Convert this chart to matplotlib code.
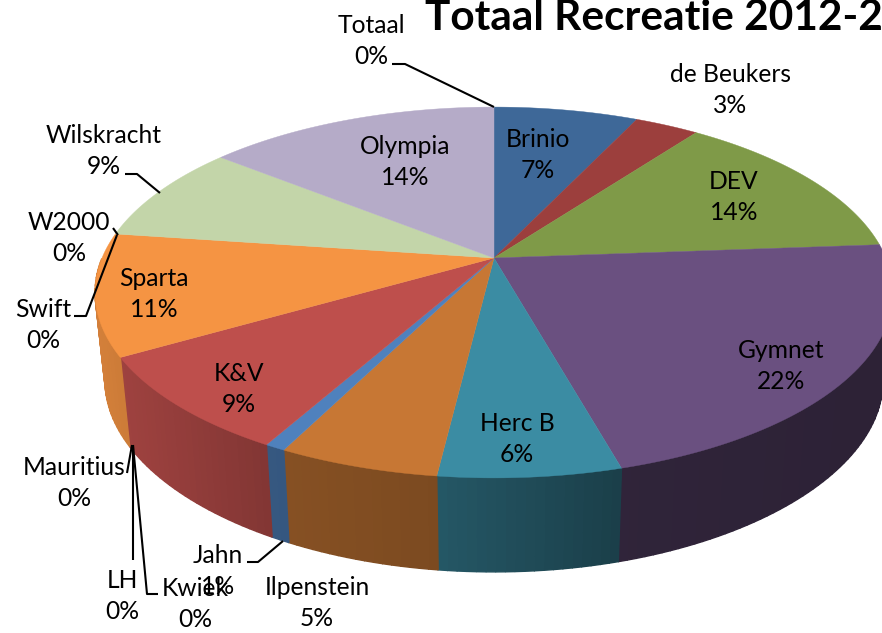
import numpy as np
import matplotlib
matplotlib.use("Agg")
import matplotlib.pyplot as plt
from matplotlib.patches import Polygon

# Data
categories = ["Totaal", "Brinio", "de Beukers", "DEV", "Gymnet", "Herc B", "Ilpenstein", "Jahn",
              "K&V", "Kwiek", "LH", "Mauritius", "Sparta", "Swift", "W2000", "Wilskracht", "Olympia"]
values = [0.0, 7.0, 3.1, 13.7, 21.9, 6.2, 5.48, 0.7, 8.52, 0.0, 0.0, 0.0, 10.6, 0.0, 0.0, 8.6, 14.2]
title = "Totaal Recreatie 2012-2013"

# Styles
colors = {"Brinio": "#3E6898", "de Beukers": "#9C3F3D", "DEV": "#7F9A48", "Gymnet": "#6A5080",
          "Herc B": "#3B8CA3", "Ilpenstein": "#C77734", "Jahn": "#4F81BD", "K&V": "#BE4F4C",
          "Sparta": "#F59443", "Wilskracht": "#C3D5A9", "Olympia": "#B5ABC8"}
label_pos = {"Totaal": (371, 41), "de Beukers": (730, 90), "Brinio": (538, 155), "DEV": (734, 197),
             "Olympia": (405, 162), "Wilskracht": (104, 151), "W2000": (69, 238), "Swift": (43, 325),
             "Sparta": (154, 294), "K&V": (239, 389), "Gymnet": (781, 366), "Herc B": (517, 439),
             "Mauritius": (74, 483), "LH": (122, 596), "Kwiek": (195, 604), "Jahn": (218, 571),
             "Ilpenstein": (317, 603)}
leaders = [[(392, 64), (405, 64), (494, 107)],
           [(125, 174), (137, 174), (160, 193)],
           [(113, 228), (118, 235)],
           [(74, 316), (86, 316), (117, 235)],
           [(127, 473), (132, 445)],
           [(133, 560), (133, 445)],
           [(158, 594), (147, 594), (133, 445)],
           [(247, 562), (258, 562), (283, 541)]]

CX, CY, A, B, K = 494, 258, 392, 179, 0.186


def top(theta):
    x, y = np.sin(theta), np.cos(theta)
    d = 1 + K * y
    return CX + A * x / d, CY - B * y / d


def bottom(theta):
    X, Y = top(theta)
    off = Y - CY
    return CX + (X - CX) * 0.975, Y + 88 + 6 * (off / 220) ** 2


def shade(c, f):
    rgb = np.array(matplotlib.colors.to_rgb(c))
    return tuple(rgb * f)


fig = plt.figure(figsize=(8.82, 6.33), dpi=100)
ax = fig.add_axes([0, 0, 1, 1])
ax.set_xlim(0, 882)
ax.set_ylim(633, 0)
ax.axis("off")

edges = np.cumsum([0] + values) / sum(values) * 2 * np.pi

# side walls (front half only)
for name, v, a0, a1 in zip(categories, values, edges[:-1], edges[1:]):
    if v == 0:
        continue
    n = max(2, int((a1 - a0) / 0.02))
    th = np.linspace(a0, a1, n + 1)
    for t0, t1 in zip(th[:-1], th[1:]):
        if np.cos((t0 + t1) / 2) > 0:
            continue
        tx0, ty0 = top(t0)
        tx1, ty1 = top(t1)
        bx0, by0 = bottom(t0)
        bx1, by1 = bottom(t1)
        f = np.interp((tx0 + tx1) / 2, [95, 270, 440, 620, 890], [0.86, 0.68, 0.62, 0.45, 0.42])
        col = shade(colors[name], f)
        ax.add_patch(Polygon([(tx0, ty0), (tx1, ty1), (bx1, by1), (bx0, by0)], closed=True,
                             facecolor=col, edgecolor=col, lw=1.0, zorder=2))

# top faces
for name, v, a0, a1 in zip(categories, values, edges[:-1], edges[1:]):
    if v == 0:
        continue
    th = np.linspace(a0, a1, 200)
    xs, ys = top(th)
    pts = [(CX, CY)] + list(zip(xs, ys))
    ax.add_patch(Polygon(pts, closed=True, facecolor=colors[name], edgecolor=colors[name],
                         lw=0.3, zorder=3))

# labels
font = ["Lato", "DejaVu Sans"]
for name, v in zip(categories, values):
    x, y = label_pos[name]
    ax.text(x, y, f"{name}\n{v:.0f}%", ha="center", va="center", fontsize=17.7,
            family=font, linespacing=1.4, color="black", zorder=6)

for seg in leaders:
    xs, ys = zip(*seg)
    ax.plot(xs, ys, color="black", lw=1.5, zorder=5, solid_capstyle="butt")

ax.text(425, 30, title, ha="left", va="baseline", fontsize=30.5, fontweight="bold",
        family=font, color="black", zorder=6, clip_on=False)

fig.savefig("out.png", dpi=100)
